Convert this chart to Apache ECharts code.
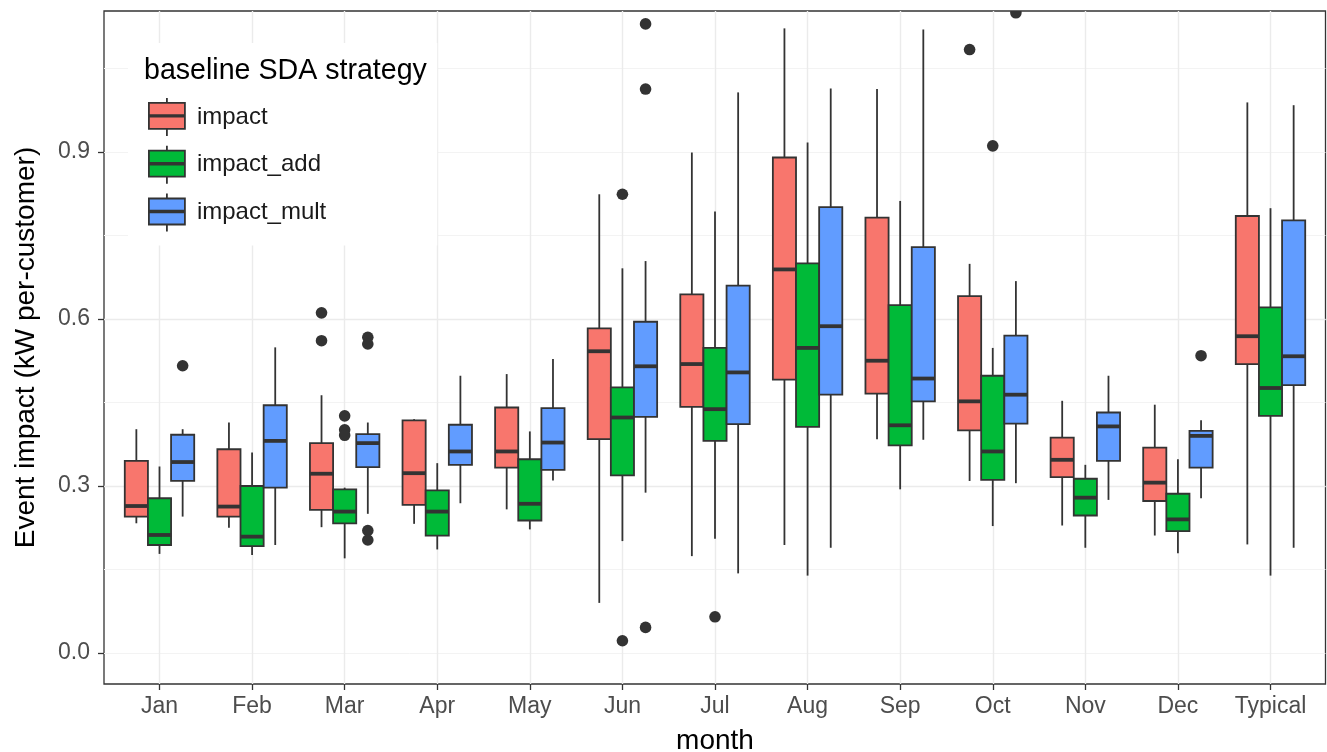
<!DOCTYPE html>
<html>
<head>
<meta charset="utf-8">
<script src="https://cdn.jsdelivr.net/npm/echarts@6/dist/echarts.min.js"></script>
<style>
html,body{margin:0;padding:0;background:#fff;}
#chart{width:1327px;height:752px;}
</style>
</head>
<body>
<div id="chart"></div>
<script>
// ---------------- data ----------------
const categories = ['Jan','Feb','Mar','Apr','May','Jun','Jul','Aug','Sep','Oct','Nov','Dec','Typical'];
const seriesNames = ['impact','impact_add','impact_mult'];
const yTickValues = [0, 0.3, 0.6, 0.9];

// [lower whisker, Q1, median, Q3, upper whisker]
const impactBoxes = [
  [0.233,0.245,0.264,0.345,0.402],
  [0.225,0.245,0.263,0.366,0.414],
  [0.226,0.257,0.322,0.377,0.463],
  [0.232,0.266,0.323,0.418,0.420],
  [0.258,0.333,0.362,0.441,0.501],
  [0.090,0.384,0.542,0.583,0.824],
  [0.174,0.442,0.519,0.644,0.899],
  [0.194,0.491,0.689,0.890,1.122],
  [0.384,0.466,0.525,0.782,1.013],
  [0.309,0.400,0.452,0.641,0.699],
  [0.229,0.316,0.347,0.387,0.453],
  [0.211,0.273,0.306,0.369,0.446],
  [0.195,0.519,0.569,0.785,0.989]
];
const impactAddBoxes = [
  [0.178,0.194,0.212,0.278,0.335],
  [0.176,0.192,0.209,0.300,0.360],
  [0.170,0.233,0.254,0.294,0.297],
  [0.186,0.211,0.254,0.292,0.341],
  [0.222,0.238,0.268,0.348,0.398],
  [0.201,0.319,0.423,0.477,0.691],
  [0.205,0.381,0.438,0.548,0.793],
  [0.139,0.406,0.548,0.700,0.917],
  [0.294,0.373,0.409,0.625,0.812],
  [0.228,0.311,0.362,0.498,0.548],
  [0.189,0.247,0.279,0.313,0.338],
  [0.179,0.219,0.240,0.286,0.348],
  [0.139,0.426,0.476,0.621,0.799]
];
const impactMultBoxes = [
  [0.245,0.309,0.343,0.392,0.402],
  [0.194,0.297,0.381,0.445,0.549],
  [0.250,0.334,0.377,0.393,0.414],
  [0.269,0.338,0.362,0.410,0.498],
  [0.310,0.329,0.378,0.440,0.528],
  [0.288,0.424,0.515,0.595,0.704],
  [0.143,0.411,0.504,0.660,1.007],
  [0.189,0.464,0.587,0.801,1.014],
  [0.383,0.452,0.493,0.729,1.120],
  [0.305,0.412,0.464,0.570,0.668],
  [0.275,0.345,0.407,0.432,0.498],
  [0.278,0.333,0.390,0.399,0.418],
  [0.189,0.481,0.533,0.777,0.984]
];

// outliers: [category, value]
const impactOutliers = [['Mar',0.611],['Mar',0.561],['Oct',1.084]];
const impactAddOutliers = [['Mar',0.426],['Mar',0.401],['Mar',0.391],['Jun',0.824],['Jun',0.022],['Jul',0.065],['Oct',0.911]];
const impactMultOutliers = [['Jan',0.516],['Mar',0.567],['Mar',0.555],['Mar',0.220],['Mar',0.203],['Jun',1.130],['Jun',1.013],['Jun',0.046],['Oct',1.150],['Dec',0.534]];

// ---------------- style ----------------
const FILLS = ['#F8766D', '#00BA38', '#619CFF'];
const DARK = '#333333';
const FONT = "'Liberation Sans', Arial, Helvetica, sans-serif";
const Y_MIN = -0.0557, Y_MAX = 1.1532;
const LW = 1.8;

const boxSets = [impactBoxes, impactAddBoxes, impactMultBoxes];
const outlierSets = [impactOutliers, impactAddOutliers, impactMultOutliers];

function boxRender(k) {
  return function (params, api) {
    const ci = api.value(0);
    const band = api.size([1, 0])[0];
    const w = band * 0.25;
    const x = api.coord([ci, 0])[0] + (k - 1) * w;
    const yLow = api.coord([ci, api.value(1)])[1];
    const yQ1 = api.coord([ci, api.value(2)])[1];
    const yMed = api.coord([ci, api.value(3)])[1];
    const yQ3 = api.coord([ci, api.value(4)])[1];
    const yHigh = api.coord([ci, api.value(5)])[1];
    const ln = { stroke: DARK, lineWidth: LW };
    return {
      type: 'group',
      children: [
        { type: 'line', shape: { x1: x, y1: yQ3, x2: x, y2: yHigh }, style: ln },
        { type: 'line', shape: { x1: x, y1: yQ1, x2: x, y2: yLow }, style: ln },
        { type: 'rect', shape: { x: x - w / 2, y: yQ3, width: w, height: yQ1 - yQ3 },
          style: { fill: FILLS[k], stroke: DARK, lineWidth: LW } },
        { type: 'line', shape: { x1: x - w / 2, y1: yMed, x2: x + w / 2, y2: yMed },
          style: { stroke: DARK, lineWidth: 3.8 } }
      ]
    };
  };
}
function outlierRender(k) {
  return function (params, api) {
    const ci = api.value(0);
    const band = api.size([1, 0])[0];
    const w = band * 0.25;
    const p = api.coord([ci, api.value(1)]);
    return { type: 'circle', shape: { cx: p[0] + (k - 1) * w, cy: p[1], r: 5.8 }, style: { fill: DARK } };
  };
}

const series = [];
for (let k = 0; k < 3; k++) {
  series.push({
    name: seriesNames[k],
    type: 'custom',
    xAxisIndex: 1, yAxisIndex: 2,
    renderItem: boxRender(k),
    encode: { x: 0, y: [1, 2, 3, 4, 5] },
    itemStyle: { color: FILLS[k], borderColor: DARK, borderWidth: LW },
    data: boxSets[k].map((b, i) => [i].concat(b)),
    silent: true, z: 3
  });
}
for (let k = 0; k < 3; k++) {
  series.push({
    name: seriesNames[k] + ' outliers',
    type: 'custom',
    xAxisIndex: 1, yAxisIndex: 2,
    renderItem: outlierRender(k),
    encode: { x: 0, y: 1 },
    clip: true,
    data: outlierSets[k].map(o => [categories.indexOf(o[0]), o[1]]),
    silent: true, z: 4
  });
}

const legendIcon = 'path://M18,0L18,5M0,5L36,5L36,17.2L0,17.2ZM0,17.2L36,17.2L36,18.8L0,18.8ZM0,18.8L36,18.8L36,31L0,31ZM18,31L18,38';

const option = {
  backgroundColor: '#ffffff',
  animation: false,
  textStyle: { fontFamily: FONT },
  title: {
    text: 'baseline SDA strategy',
    left: 144, top: 57, padding: 0, z: 10,
    textStyle: { fontFamily: FONT, fontSize: 28.6, fontWeight: 'normal', color: '#000000' }
  },
  legend: {
    data: seriesNames,
    orient: 'vertical',
    left: 128, top: 43,
    padding: [54, 111, 13, 20],
    backgroundColor: '#ffffff',
    itemWidth: 50, itemHeight: 38, itemGap: 8,
    icon: legendIcon,
    itemStyle: { borderColor: DARK, borderWidth: LW },
    textStyle: { fontFamily: FONT, fontSize: 24, color: '#1a1a1a' },
    selectedMode: false
  },
  grid: [
    { left: 104, right: 1.5, top: 11, bottom: 68, show: true, borderColor: DARK, borderWidth: 1.3,
      backgroundColor: '#ffffff', outerBoundsMode: 'none', containLabel: false },
    { left: 159.5, right: 56.5, top: 11, bottom: 68, outerBoundsMode: 'none', containLabel: false }
  ],
  xAxis: [
    { gridIndex: 0, type: 'value', min: 0, max: 1, show: false },
    {
      gridIndex: 1, type: 'category', data: categories, boundaryGap: false, position: 'bottom',
      axisLine: { show: false, onZero: false },
      axisTick: { show: true, length: 6, lineStyle: { color: DARK, width: 1.3 } },
      axisLabel: { fontFamily: FONT, fontSize: 23, color: '#4D4D4D', margin: 11, interval: 0 },
      splitLine: { show: true, lineStyle: { color: '#EBEBEB', width: 1.4 } },
      name: 'month', nameLocation: 'middle', nameGap: 43,
      nameTextStyle: { fontFamily: FONT, fontSize: 28, color: '#000000' }
    }
  ],
  yAxis: [
    {
      gridIndex: 0, type: 'value', min: Y_MIN, max: Y_MAX, position: 'left',
      minInterval: 0.15, maxInterval: 0.15, splitNumber: 8, z: 0,
      axisLine: { show: false }, axisTick: { show: false }, axisLabel: { show: false },
      splitLine: { show: true, showMinLine: false, showMaxLine: false, lineStyle: { color: '#F3F3F3', width: 1 } }
    },
    {
      gridIndex: 0, type: 'value', min: Y_MIN, max: Y_MAX, position: 'left',
      minInterval: 0.3, maxInterval: 0.3, splitNumber: 4, z: 1,
      axisLine: { show: false, onZero: false },
      axisTick: { show: true, length: 6, customValues: yTickValues, lineStyle: { color: DARK, width: 1.3 } },
      axisLabel: {
        fontFamily: FONT, fontSize: 23, color: '#4D4D4D', margin: 14,
        customValues: yTickValues, hideOverlap: false,
        formatter: v => Number(v).toFixed(1)
      },
      splitLine: { show: true, showMinLine: false, showMaxLine: false, lineStyle: { color: '#EBEBEB', width: 1.4 } },
      name: 'Event impact (kW per-customer)', nameLocation: 'middle', nameGap: 64,
      nameTextStyle: { fontFamily: FONT, fontSize: 28, color: '#000000' }
    },
    { gridIndex: 1, type: 'value', min: Y_MIN, max: Y_MAX, position: 'left', show: false }
  ],
  series: series
};

const chart = echarts.init(document.getElementById('chart'), null, { renderer: 'canvas' });
chart.setOption(option);
</script>
</body>
</html>
